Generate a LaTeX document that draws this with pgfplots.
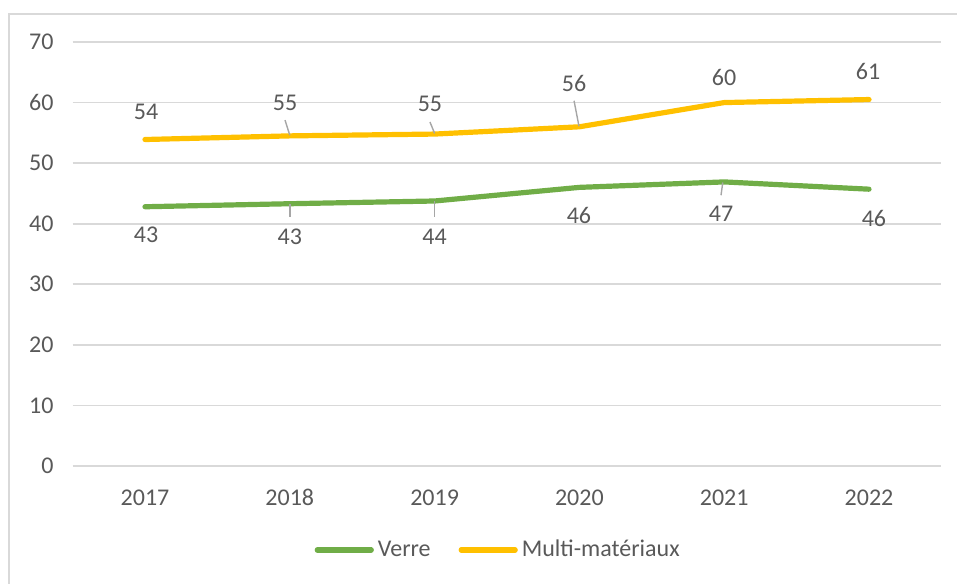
\documentclass[border=0pt]{standalone}
\usepackage{pgfplots}
\pgfplotsset{compat=1.18}
\usepackage{fontspec}
\setmainfont{Carlito}
\definecolor{txt}{HTML}{595959}
\definecolor{gridc}{HTML}{D9D9D9}
\definecolor{verre}{HTML}{70AD47}
\definecolor{multi}{HTML}{FFC000}
\definecolor{lead}{HTML}{A6A6A6}
\begin{document}
\begin{tikzpicture}[font=\fontsize{12pt}{14pt}\selectfont]
\useasboundingbox (-36.3pt,-58.5pt) rectangle (442.2pt,233pt);
\draw[gridc, line width=0.8pt] (-31.8pt,-70pt) rectangle (460pt,226pt);
\begin{axis}[
  at={(0,0)}, anchor=south west,
  scale only axis, width=434.4pt, height=212pt,
  xmin=-0.5, xmax=5.5, ymin=0, ymax=70,
  xtick={0,1,2,3,4,5},
  xticklabels={2017,2018,2019,2020,2021,2022},
  ytick={0,10,20,30,40,50,60,70},
  axis line style={draw=none},
  major tick length=0pt,
  xmajorgrids=false,
  ymajorgrids=true, grid style={draw=gridc, line width=0.8pt},
  tick label style={text=txt, font=\fontsize{12pt}{14pt}\selectfont},
  /pgf/number format/assume math mode=true,
  yticklabel style={anchor=east, xshift=-6pt},
  xticklabel style={yshift=-8pt, text height=8pt, text depth=0pt},
  legend columns=2,
  legend style={at={(0.491,-0.198)}, anchor=center, draw=none, fill=none,
    font=\fontsize{12pt}{14pt}\selectfont, text=txt,
    /tikz/every even column/.append style={column sep=12pt},
    inner sep=0pt},
  legend cell align=left,
  legend image code/.code={\draw[#1] (0pt,0pt) -- (27pt,0pt);},
  clip=false,
]
\addplot[verre, line width=2.6pt, line cap=round, line join=round] coordinates {
 (0,42.8) (1,43.3) (2,43.75) (3,46.0) (4,46.9) (5,45.7)};
\addlegendentry{Verre}
\addplot[multi, line width=2.6pt, line cap=round, line join=round] coordinates {
 (0,53.9) (1,54.5) (2,54.8) (3,56.0) (4,60.0) (5,60.5)};
\addlegendentry{Multi-matériaux}
% leader lines
\draw[lead, line width=0.7pt] (axis cs:0.967,57.1) -- (axis cs:1.0,54.6);
\draw[lead, line width=0.7pt] (axis cs:1.968,56.8) -- (axis cs:2.0,54.9);
\draw[lead, line width=0.7pt] (axis cs:2.963,60.3) -- (axis cs:2.997,56.1);
\draw[lead, line width=0.7pt] (axis cs:1.0,43.2) -- (axis cs:1.0,41.1);
\draw[lead, line width=0.7pt] (axis cs:2.0,43.7) -- (axis cs:2.0,41.1);
\draw[lead, line width=0.7pt] (axis cs:3.99,46.8) -- (axis cs:3.978,44.7);
% data labels
\begin{scope}[every node/.style={text=txt, font=\fontsize{12pt}{14pt}\selectfont}]
\node at (axis cs:0.007,58.4) {54};
\node at (axis cs:0.967,59.9) {55};
\node at (axis cs:1.968,59.8) {55};
\node at (axis cs:2.963,63.2) {56};
\node at (axis cs:3.999,64.2) {60};
\node at (axis cs:4.993,65.2) {61};
\node at (axis cs:0.007,38.1) {43};
\node at (axis cs:1.0,37.8) {43};
\node at (axis cs:2.0,37.8) {44};
\node at (axis cs:2.997,41.3) {46};
\node at (axis cs:3.978,41.6) {47};
\node at (axis cs:5.034,40.8) {46};
\end{scope}
\end{axis}
\end{tikzpicture}
\end{document}
